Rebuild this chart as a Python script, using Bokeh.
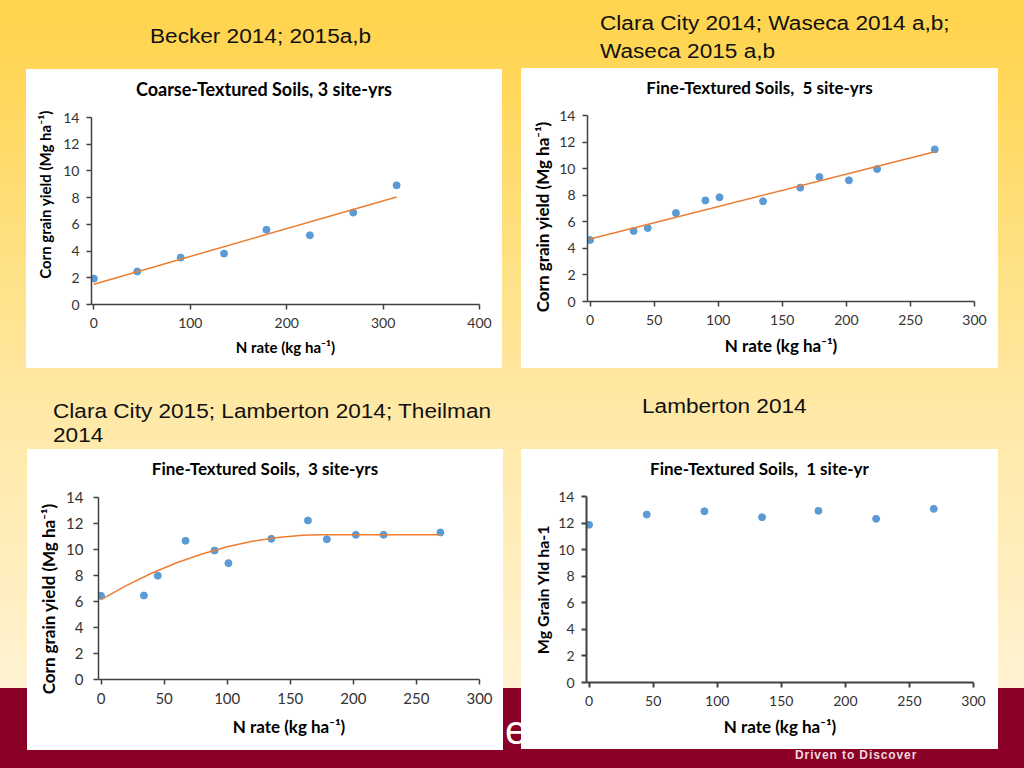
from bokeh.plotting import figure
from bokeh.layouts import row, column
from bokeh.models import Div, FixedTicker, Range1d
from bokeh.embed import file_html
from bokeh.resources import INLINE

# ---------------- data ----------------
y_ticks = [0, 2, 4, 6, 8, 10, 12, 14]
coarse_x_ticks = [0, 100, 200, 300, 400]
fine_x_ticks = [0, 50, 100, 150, 200, 250, 300]

coarse_n = [0, 45, 90, 135, 179, 224, 269, 314]
coarse_yield = [1.94, 2.47, 3.51, 3.81, 5.60, 5.18, 6.88, 8.92]
coarse_fit_n = [0, 314]
coarse_fit_yield = [1.52, 8.05]

fine5_n = [0, 34, 45, 67, 90, 101, 135, 164, 179, 202, 224, 269]
fine5_yield = [4.63, 5.31, 5.53, 6.66, 7.61, 7.84, 7.54, 8.57, 9.37, 9.12, 9.97, 11.45]
fine5_fit_n = [0, 269]
fine5_fit_yield = [4.71, 11.27]

fine3_n = [0, 34, 45, 67, 90, 101, 135, 164, 179, 202, 224, 269]
fine3_yield = [6.44, 6.46, 7.99, 10.67, 9.92, 8.95, 10.82, 12.23, 10.79, 11.13, 11.13, 11.31]
fine3_fit_n = [0, 20, 40, 60, 80, 100, 120, 140, 160, 175, 200, 230, 269]
fine3_fit_yield = [6.15, 7.22, 8.17, 8.98, 9.66, 10.21, 10.64, 10.93, 11.09, 11.13, 11.13, 11.13, 11.13]

fine1_n = [0, 45, 90, 135, 179, 224, 269]
fine1_yield = [11.87, 12.64, 12.89, 12.44, 12.92, 12.32, 13.07]

BLUE = "#5B9BD5"
ORANGE = "#ED7D31"
AXIS = "#404040"
NB = "\u00a0"

GRADIENT = ("linear-gradient(to bottom, #FFD34C 0px, #FFD75A 80px, #FFE184 260px, "
            "#FFE9A8 420px, #FFEFC2 600px, #FFF3D4 688px, #8A0027 688px, #8A0027 768px)")


def make_fig(width, height, x_start, x_ticks, borders, tick_size, lab_size,
             xlabel, ylabel, y_std, x_std, ylab_std, xlab_std, axis_w=1.5):
    bl, br, bt, bb = borders
    p = figure(width=width, height=height,
               x_range=Range1d(x_start, x_ticks[-1]), y_range=Range1d(0, 14),
               output_backend="svg", toolbar_location=None,
               min_border_left=bl, min_border_right=br,
               min_border_top=bt, min_border_bottom=bb,
               background_fill_color="white", border_fill_color="white",
               outline_line_color=None, margin=0)
    p.grid.visible = False
    p.xaxis.ticker = FixedTicker(ticks=x_ticks)
    p.yaxis.ticker = FixedTicker(ticks=y_ticks)
    for ax in (p.xaxis, p.yaxis):
        ax.axis_line_color = AXIS
        ax.axis_line_width = axis_w
        ax.major_tick_line_color = AXIS
        ax.major_tick_line_width = axis_w
        ax.major_tick_out = 5
        ax.major_tick_in = 0
        ax.minor_tick_out = 0
        ax.minor_tick_in = 0
        ax.major_label_text_font = "Lato"
        ax.major_label_text_font_size = f"{tick_size}px"
        ax.major_label_text_color = "#333333"
        ax.axis_label_text_font = "Lato"
        ax.axis_label_text_font_style = "bold"
        ax.axis_label_text_color = "#000000"
    p.xaxis.axis_label_text_font_size = f"{lab_size[0]}px"
    p.yaxis.axis_label_text_font_size = f"{lab_size[1]}px"
    p.xaxis.axis_label = xlabel
    p.yaxis.axis_label = ylabel
    p.yaxis.major_label_standoff = y_std
    p.xaxis.major_label_standoff = x_std
    p.yaxis.axis_label_standoff = ylab_std
    p.xaxis.axis_label_standoff = xlab_std
    return p


def title_div(text, width, size):
    html = (f'<div style="width:{width}px;text-align:center;font-family:Lato,sans-serif;'
            f'font-weight:bold;font-size:{size}px;line-height:16px;padding-top:12px;'
            f'white-space:pre;color:#000;">{text}</div>')
    return Div(text=html, width=width, height=28, margin=0,
               styles={"background-color": "white"})


def slide_text(lines, width, inner_w, lh, ml, mt, height):
    html = (f'<div style="width:{inner_w}px;transform:scaleX(1.13);transform-origin:0 0;'
            f'white-space:nowrap;font-family:\'Liberation Sans\',Arial,sans-serif;'
            f'font-size:20px;line-height:{lh}px;color:#111;">' + "<br>".join(lines) + '</div>')
    return Div(text=html, width=width, height=height, margin=(mt, 0, 0, ml))


def panel(title, title_size, fig, margin):
    return column(title_div(title, fig.width, title_size), fig, margin=margin, spacing=0,
                  styles={"background-color": "white"})


XLAB = "N rate (kg ha\u207b\u00b9)"
YLAB = "Corn grain yield (Mg ha\u207b\u00b9)"

# ---- panel 1: coarse ----
p1 = make_fig(476, 271, -2.5, coarse_x_ticks, (65, 23, 20, 64), 14, (15, 15),
              XLAB, NB * 9 + YLAB, 7, 8, 6, 7)
p1.scatter(coarse_n, coarse_yield, size=7, fill_color=BLUE, line_color=BLUE)
p1.line(coarse_fit_n, coarse_fit_yield, line_color=ORANGE, line_width=1.5)
panel1 = panel("Coarse-Textured Soils, 3 site-yrs", 18, p1, (1, 0, 0, 26))

# ---- panel 2: fine 5 site-yrs ----
p2 = make_fig(477, 272, -2, fine_x_ticks, (66, 24, 19, 67), 14, (17, 17),
              XLAB, YLAB + NB * 4, 7, 8, 3, 7)
p2.scatter(fine5_n, fine5_yield, size=7, fill_color=BLUE, line_color=BLUE)
p2.line(fine5_fit_n, fine5_fit_yield, line_color=ORANGE, line_width=1.5)
panel2 = panel("Fine-Textured Soils,  5 site-yrs", 17, p2, (0, 0, 0, 19))

# ---- panel 3: fine 3 site-yrs ----
p3 = make_fig(476, 273, -2, fine_x_ticks, (71, 24, 20, 71), 15, (17, 17),
              XLAB, YLAB + NB * 5, 10, 8, 4, 9)
p3.scatter(fine3_n, fine3_yield, size=7, fill_color=BLUE, line_color=BLUE)
p3.line(fine3_fit_n, fine3_fit_yield, line_color=ORANGE, line_width=1.5)
panel3 = panel("Fine-Textured Soils,  3 site-yrs", 17, p3, (0, 0, 0, 27))

# ---- panel 4: fine 1 site-yr ----
p4 = make_fig(477, 272, -2, fine_x_ticks, (65, 25, 19, 67), 14, (17, 16),
              XLAB, "Mg Grain Yld ha-1", 7, 8, 3, 7, axis_w=2)
p4.scatter(fine1_n, fine1_yield, size=7, fill_color=BLUE, line_color=BLUE)
panel4 = panel("Fine-Textured Soils,  1 site-yr", 17, p4, 0)

# ---- slide texts ----
a1 = slide_text(["Becker 2014; 2015a,b"], 450, 380, 24, 150, 24, 44)
a2 = slide_text(["Clara City 2014; Waseca 2014 a,b;", "Waseca 2015 a,b"], 424, 360, 28, 0, 9, 59)
c1 = slide_text(["Clara City 2015; Lamberton 2014; Theilman", "2014"], 450, 395, 24, 53, 31, 50)
c2 = slide_text(["Lamberton 2014"], 250, 200, 24, 139, 26, 55)

gap = Div(text=('<div style="padding-top:261px;padding-left:2px;font-family:\'Liberation Sans\',Arial,sans-serif;'
                'font-size:40px;line-height:40px;color:#fff;">e</div>'),
          width=18, height=301, margin=0, styles={"overflow": "hidden"})

footer = Div(text=('<div style="position:relative;top:-3px;font-family:\'Liberation Sans\',Arial,sans-serif;'
                   'font-weight:bold;font-size:12px;line-height:14px;letter-spacing:0.9px;color:#F2D7DD;'
                   'white-space:nowrap;">Driven to Discover</div>'),
             width=200, height=18, margin=(0, 0, 0, 795))

rowA = row(a1, a2, margin=0, spacing=0)
rowB = row(panel1, panel2, margin=0, spacing=0)
rowC = row(c1, c2, margin=0, spacing=0)
rowD = row(panel3, gap, panel4, margin=0, spacing=0)
rowE = row(footer, margin=0, spacing=0)

root = column(rowA, rowB, rowC, rowD, rowE, width=1024, height=768, spacing=0,
              margin=0, styles={"background": GRADIENT})

open("out.html", "w").write(file_html(root, INLINE))
